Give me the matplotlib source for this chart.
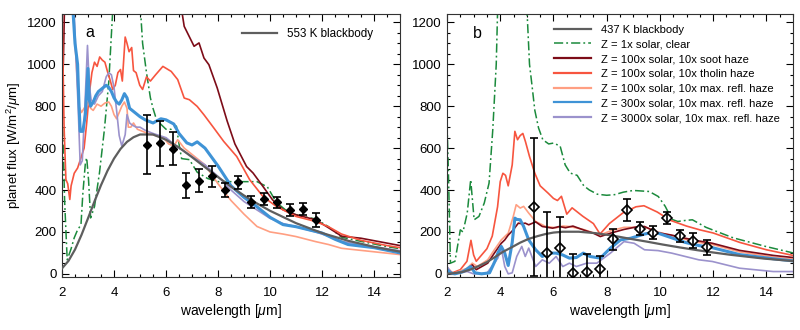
import matplotlib
matplotlib.use("Agg")
import matplotlib.pyplot as plt
from matplotlib.ticker import MultipleLocator
from matplotlib.lines import Line2D

plt.rcParams['font.family'] = ['Liberation Sans', 'DejaVu Sans']
plt.rcParams['mathtext.fontset'] = 'custom'
plt.rcParams['mathtext.rm'] = 'Liberation Sans'
plt.rcParams['mathtext.it'] = 'Liberation Sans:italic'

# ---------------- data: panel a ----------------
bb_a_wl = [2.0, 2.25, 2.5, 2.75, 3.0, 3.25, 3.5, 3.75, 4.0, 4.25, 4.5, 4.75, 5.0, 5.5, 6.0, 6.5,
           7.0, 7.5, 8.0, 8.5, 9.0, 9.5, 10.0, 11.0, 12.0, 13.0, 14.0, 15.0]
bb_a_fx = [26, 62, 116, 186, 265, 346, 423, 492, 550, 596, 630, 652, 665, 665, 640, 603,
           557, 509, 462, 416, 374, 336, 301, 242, 195, 158, 129, 106]

clear_a_wl = [2.0, 2.05, 2.1, 2.2, 2.35, 2.47, 2.6, 2.73, 2.8, 2.9, 2.95, 3.02, 3.1, 3.25, 3.44, 3.63,
              3.8, 3.97, 5.0, 5.1, 5.25, 5.4, 5.5, 5.6, 5.75, 6.0, 6.2, 6.4, 6.5, 6.6, 6.9, 7.2, 7.6,
              8.0, 8.5, 9.0, 9.5, 9.9, 10.25, 10.75, 11.25, 11.75, 12.25, 12.75, 13.5, 14.5, 15.0]
clear_a_fx = [780, 600, 350, 67, 120, 172, 210, 234, 380, 530, 554, 450, 267, 321, 481, 688,
              918, 1300, 1300, 1100, 960, 840, 790, 750, 720, 690, 690, 705, 620, 550, 545, 485, 455,
              440, 440, 440, 440, 415, 340, 290, 275, 262, 225, 175, 155, 130, 120]

soot_a_wl = [2.0, 2.05, 2.1, 6.55, 6.7, 7.08, 7.27, 7.46, 7.65, 7.97, 8.35, 8.65, 9.1, 9.35, 9.73,
             10.1, 10.5, 11.0, 11.75, 12.25, 12.75, 13.5, 15.0]
soot_a_fx = [840, 1000, 1300, 1300, 1181, 1086, 1102, 1030, 998, 887, 730, 620, 512, 481, 417,
             353, 306, 282, 258, 220, 180, 170, 135]

tholin_a_wl = [2.0, 2.08, 2.15, 2.22, 2.3, 2.35, 2.47, 2.6, 2.72, 2.85, 2.95, 3.05, 3.15, 3.25, 3.35,
               3.45, 3.55, 3.65, 3.75, 3.85, 3.95, 4.05, 4.15, 4.25, 4.32, 4.43, 4.5, 4.58, 4.68,
               4.75, 4.85, 4.99, 5.1, 5.25, 5.4, 5.6, 5.88, 6.2, 6.45, 6.7, 6.9, 7.2, 7.46, 7.84,
               8.22, 8.72, 9.22, 9.73, 10.24, 11.0, 11.75, 12.25, 12.75, 13.5, 14.5, 15.0]
tholin_a_fx = [1300, 700, 450, 430, 355, 420, 480, 505, 550, 600, 720, 860, 960, 1010, 990,
               1035, 1020, 1010, 965, 925, 880, 900, 960, 975, 920, 1130, 1100, 1060, 1080,
               970, 960, 900, 880, 940, 920, 950, 990, 966, 927, 839, 831, 799, 759, 696,
               632, 560, 449, 369, 322, 274, 250, 225, 190, 160, 135, 125]

maxr100_a_wl = [2.4, 2.55, 2.65, 2.75, 2.85, 3.0, 3.1, 3.2, 3.35, 3.5, 3.65, 3.8, 3.9, 4.0, 4.1,
                4.2, 4.3, 4.4, 4.5, 4.55, 4.65, 4.75, 4.9, 5.1, 5.3, 5.6, 5.9, 6.1, 6.3, 6.45, 6.7,
                7.0, 7.5, 8.0, 8.5, 9.0, 9.5, 10.0, 10.5, 11.0, 11.75, 12.25, 12.75, 13.5, 15.0]
maxr100_a_fx = [1300, 1000, 800, 770, 790, 820, 790, 780, 810, 800, 815, 820, 800, 760, 740,
                770, 800, 820, 790, 700, 700, 720, 690, 680, 670, 660, 650, 620, 610, 640, 600,
                570, 520, 430, 350, 285, 226, 200, 190, 178, 154, 140, 122, 112, 92]

maxr300_a_wl = [2.4, 2.5, 2.6, 2.65, 2.7, 2.8, 2.9, 3.0, 3.05, 3.1, 3.2, 3.3, 3.4, 3.5, 3.6, 3.7,
                3.8, 3.9, 4.0, 4.1, 4.2, 4.3, 4.4, 4.5, 4.6, 4.7, 4.8, 5.0, 5.2, 5.5, 5.8, 6.0,
                6.3, 6.5, 6.8, 7.0, 7.2, 7.5, 8.0, 8.5, 9.0, 9.5, 10.0, 10.5, 11.0, 11.5, 12.0,
                12.5, 13.0, 14.0, 15.0]
maxr300_a_fx = [1300, 1100, 1000, 820, 680, 680, 760, 980, 830, 800, 820, 850, 870, 880, 890, 900,
                890, 870, 840, 820, 810, 830, 860, 840, 790, 780, 770, 750, 735, 720, 740, 735,
                715, 670, 625, 615, 630, 600, 515, 420, 365, 320, 270, 235, 225, 210, 195,
                165, 140, 125, 100]

maxr3000_a_wl = [2.45, 2.55, 2.62, 2.7, 2.78, 2.88, 2.98, 3.05, 3.12, 3.25, 3.4, 3.55, 3.7, 3.8,
                 3.9, 4.0, 4.1, 4.2, 4.3, 4.43, 4.5, 4.6, 4.7, 4.85, 5.0, 5.2, 5.5, 6.0, 6.5, 7.0,
                 7.5, 8.0, 8.5, 9.0, 9.5, 10.0, 10.5, 11.0, 11.75, 12.25, 12.75, 13.5, 15.0]
maxr3000_a_fx = [1300, 1000, 800, 520, 540, 800, 1090, 900, 830, 810, 850, 870, 940, 960,
                 950, 890, 780, 660, 610, 664, 760, 720, 710, 700, 700, 685, 670, 650, 600, 560,
                 520, 465, 400, 345, 305, 265, 240, 225, 200, 180, 155, 140, 110]

obs_wl = [5.25, 5.75, 6.25, 6.75, 7.25, 7.75, 8.25, 8.75, 9.25, 9.75, 10.25, 10.75, 11.25, 11.75]
obs_a_fx = [616, 624, 598, 422, 444, 465, 401, 436, 342, 357, 341, 306, 310, 258]
obs_a_err = [140, 107, 80, 60, 55, 49, 34, 30, 29, 27, 25, 28, 29, 33]

# ---------------- data: panel b ----------------
bb_b_wl = [2.0, 2.25, 2.55, 2.85, 3.15, 3.5, 3.8, 4.1, 4.45, 4.75, 5.05, 5.4, 5.7, 6.0, 6.35,
           6.95, 7.6, 8.25, 8.85, 9.5, 10.1, 10.75, 11.4, 12.0, 12.65, 13.9, 15.0]
bb_b_fx = [1, 3, 8, 19, 35, 56, 80, 105, 128, 149, 166, 180, 190, 197, 201,
           201, 194, 182, 168, 154, 140, 126, 113, 102, 91, 73, 61]

clear_b_wl = [2.0, 2.05, 2.13, 2.3, 2.5, 2.6, 2.76, 2.89, 3.02, 3.2, 3.4, 3.58, 3.72, 3.85, 3.91,
              4.99, 5.1, 5.19, 5.3, 5.44, 5.6, 5.82, 6.0, 6.25, 6.44, 6.63, 6.89, 7.14, 7.35, 7.65,
              8.0, 8.3, 8.63, 9.0, 9.6, 9.94, 10.2, 10.45, 10.67, 10.96, 11.22, 11.73, 12.75,
              14.0, 15.0]
clear_b_fx = [720, 500, 51, 60, 210, 200, 290, 449, 258, 274, 338, 433, 688, 1000, 1300,
              1300, 1000, 903, 780, 696, 640, 620, 624, 610, 520, 481, 470, 420, 400, 380,
              375, 378, 390, 398, 393, 369, 322, 260, 250, 255, 258, 222, 172,
              130, 100]

soot_b_wl = [2.0, 2.15, 2.3, 2.6, 2.76, 2.95, 3.1, 3.53, 3.78, 4.04, 4.17, 4.3, 4.49, 4.68, 4.81,
             4.94, 5.07, 5.33, 5.58, 5.97, 6.22, 6.45, 6.73, 7.12, 7.5, 7.76, 8.14, 8.65, 9.16,
             9.42, 9.93, 10.44, 10.95, 11.46, 11.97, 12.99, 14.26, 15.0]
soot_b_fx = [20, 0, 3, 10, 19, 43, 20, 51, 99, 146, 162, 185, 210, 242, 239,
             242, 234, 248, 226, 218, 226, 220, 228, 210, 194, 178, 194, 212, 225,
             226, 196, 185, 170, 157, 146, 112, 88, 78]

tholin_b_wl = [2.0, 2.2, 2.5, 2.75, 2.9, 3.0, 3.1, 3.3, 3.5, 3.7, 3.9, 4.0, 4.1, 4.2, 4.3, 4.45,
               4.55, 4.65, 4.75, 4.85, 4.95, 5.1, 5.3, 5.5, 5.8, 6.0, 6.15, 6.3, 6.5, 6.7, 7.1,
               7.5, 7.75, 8.1, 8.6, 9.1, 9.4, 9.9, 10.4, 11.0, 11.5, 12.0, 13.0, 14.0, 15.0]
tholin_b_fx = [30, 5, 20, 60, 160, 90, 60, 90, 120, 180, 320, 440, 480, 470, 420, 520,
               680, 640, 660, 670, 630, 560, 480, 420, 385, 360, 350, 370, 285, 315, 275,
               240, 190, 240, 290, 320, 325, 295, 255, 228, 210, 195, 150, 115, 88]

maxr100_b_wl = [2.0, 2.2, 2.76, 2.95, 3.14, 3.53, 3.78, 4.04, 4.3, 4.49, 4.6, 4.75, 4.88, 5.07,
                5.33, 5.71, 6.1, 6.35, 6.6, 7.12, 7.5, 7.76, 8.14, 8.65, 9.16, 9.42, 9.93, 10.44,
                10.95, 11.46, 11.97, 12.99, 14.26, 15.0]
maxr100_b_fx = [20, 0, 27, 51, 35, 67, 115, 162, 194, 274, 330, 314, 322, 290,
                250, 226, 220, 228, 226, 212, 196, 186, 205, 222, 222, 224, 200, 182,
                165, 150, 140, 105, 80, 70]

maxr300_b_wl = [2.0, 2.13, 2.3, 2.6, 2.89, 3.05, 3.3, 3.6, 3.8, 3.91, 4.04, 4.17, 4.3, 4.45, 4.55,
                4.62, 4.75, 4.88, 5.07, 5.33, 5.58, 5.84, 6.1, 6.35, 6.6, 6.86, 7.12, 7.37, 7.76,
                8.14, 8.52, 8.9, 9.42, 9.75, 9.93, 10.44, 10.95, 11.46, 11.97, 12.99, 14.26, 15.0]
maxr300_b_fx = [19, 5, 0, 10, 35, 5, 0, 5, 60, 99, 131, 99, 40, 150, 266,
                260, 258, 226, 162, 115, 83, 99, 99, 90, 75, 78, 99, 83, 75,
                123, 162, 170, 190, 198, 194, 172, 150, 135, 125, 92, 72, 62]

maxr3000_b_wl = [2.0, 2.2, 2.76, 3.0, 3.5, 3.91, 4.04, 4.17, 4.3, 4.45, 4.62, 4.81, 4.94, 5.07,
                 5.33, 5.58, 5.84, 6.1, 6.35, 6.6, 6.86, 7.25, 7.63, 8.14, 8.65, 9.03, 9.42, 9.93,
                 10.44, 10.95, 11.46, 11.97, 12.99, 14.26, 15.0]
maxr3000_b_fx = [35, 0, 11, 0, 3, 75, 123, 35, 0, 5, 83, 131, 83, 123,
                 35, 67, 51, 83, 35, 51, 35, 51, 51, 99, 154, 146, 115, 111,
                 99, 83, 67, 59, 27, 11, 11]

obs_b_fx = [318, 99, 123, 3, 8, 22, 166, 306, 216, 197, 266, 181, 159, 127]
obs_b_err = [330, 197, 150, 92, 87, 61, 50, 53, 31, 33, 27, 30, 34, 36]

labels_b = ["437 K blackbody", "Z = 1x solar, clear", "Z = 100x solar, 10x soot haze",
            "Z = 100x solar, 10x tholin haze", "Z = 100x solar, 10x max. refl. haze",
            "Z = 300x solar, 10x max. refl. haze", "Z = 3000x solar, 10x max. refl. haze"]
label_a = "553 K blackbody"

# ---------------- styles ----------------
C_GRAY = '#5e5e5e'
C_GREEN = '#1b8a3c'
C_SOOT = '#7d0c18'
C_THOLIN = '#f7553f'
C_SALMON = '#ff9f82'
C_BLUE = '#3f93d6'
C_PURPLE = '#9b92cc'
DASHDOT = (0, (6, 2, 1.2, 2))

fig = plt.figure(figsize=(8.0, 3.3), dpi=100)
ax_a = fig.add_axes([62/800, 1-277/330, (400-62)/800, (277-14)/330])
ax_b = fig.add_axes([447/800, 1-277/330, (793-447)/800, (277-14)/330])


def draw(ax, bb, models, obs_fx, obs_err, filled):
    for wl, fx, col, lw, ls in models:
        ax.plot(wl, fx, color=col, lw=lw, ls=ls, zorder=2)
    ax.plot(bb[0], bb[1], color=C_GRAY, lw=1.6, zorder=3)
    if filled:
        ax.plot(obs_wl, obs_fx, ls='none', marker='D', ms=4.5, mfc='black', mec='black', zorder=5)
    else:
        ax.plot(obs_wl, obs_fx, ls='none', marker='D', ms=5, mfc='white', mec='black',
                mew=1.2, zorder=5)
    ax.errorbar(obs_wl, obs_fx, yerr=obs_err, fmt='none', ecolor='black', elinewidth=1.2,
                capsize=3.2, capthick=1.2, zorder=6)
    ax.set_xlim(2, 15)
    ax.set_ylim(-15, 1240)
    ax.xaxis.set_major_locator(MultipleLocator(2))
    ax.xaxis.set_minor_locator(MultipleLocator(0.5))
    ax.yaxis.set_major_locator(MultipleLocator(200))
    ax.yaxis.set_minor_locator(MultipleLocator(50))
    ax.tick_params(which='both', direction='in', top=True, right=True, labelsize=9.5)
    ax.tick_params(axis='x', which='major', pad=7)
    ax.tick_params(axis='y', which='major', pad=4)
    ax.tick_params(which='major', length=5, width=0.8)
    ax.tick_params(which='minor', length=2.5, width=0.8)
    for s in ax.spines.values():
        s.set_linewidth(0.8)
        s.set_color('#333333')
    ax.set_xlabel(r'wavelength [$\mathit{\mu}$m]', fontsize=10, labelpad=2)


models_a = [
    (clear_a_wl, clear_a_fx, C_GREEN, 1.1, DASHDOT),
    (soot_a_wl, soot_a_fx, C_SOOT, 1.2, '-'),
    (tholin_a_wl, tholin_a_fx, C_THOLIN, 1.2, '-'),
    (maxr100_a_wl, maxr100_a_fx, C_SALMON, 1.2, '-'),
    (maxr3000_a_wl, maxr3000_a_fx, C_PURPLE, 1.2, '-'),
    (maxr300_a_wl, maxr300_a_fx, C_BLUE, 2.2, '-'),
]
models_b = [
    (clear_b_wl, clear_b_fx, C_GREEN, 1.1, DASHDOT),
    (tholin_b_wl, tholin_b_fx, C_THOLIN, 1.2, '-'),
    (maxr100_b_wl, maxr100_b_fx, C_SALMON, 1.2, '-'),
    (soot_b_wl, soot_b_fx, C_SOOT, 1.2, '-'),
    (maxr3000_b_wl, maxr3000_b_fx, C_PURPLE, 1.2, '-'),
    (maxr300_b_wl, maxr300_b_fx, C_BLUE, 2.2, '-'),
]

draw(ax_a, (bb_a_wl, bb_a_fx), models_a, obs_a_fx, obs_a_err, True)
draw(ax_b, (bb_b_wl, bb_b_fx), models_b, obs_b_fx, obs_b_err, False)

ax_a.set_ylabel(r'planet flux [W/m$^2$/$\mathit{\mu}$m]', fontsize=9.5, labelpad=3)
ax_a.text(0.083, 0.93, 'a', transform=ax_a.transAxes, fontsize=11.5, va='center', ha='center')
ax_b.text(0.087, 0.925, 'b', transform=ax_b.transAxes, fontsize=11.5, va='center', ha='center')

ax_a.legend([Line2D([0], [0], color=C_GRAY, lw=1.6)], [label_a], loc='upper left',
            bbox_to_anchor=(0.5, 0.985), frameon=False, fontsize=8.4, handlelength=3.0,
            handletextpad=0.9)

handles_b = [Line2D([0], [0], color=C_GRAY, lw=1.6),
             Line2D([0], [0], color=C_GREEN, lw=1.1, ls=DASHDOT),
             Line2D([0], [0], color=C_SOOT, lw=1.6),
             Line2D([0], [0], color=C_THOLIN, lw=1.6),
             Line2D([0], [0], color=C_SALMON, lw=1.6),
             Line2D([0], [0], color=C_BLUE, lw=1.6),
             Line2D([0], [0], color=C_PURPLE, lw=1.6)]
ax_b.legend(handles_b, labels_b, loc='upper left', bbox_to_anchor=(0.29, 0.985), frameon=False,
            fontsize=8.1, handlelength=3.3, handletextpad=0.9, labelspacing=0.42,
            borderaxespad=0.2)

fig.savefig('out.png', dpi=100)
